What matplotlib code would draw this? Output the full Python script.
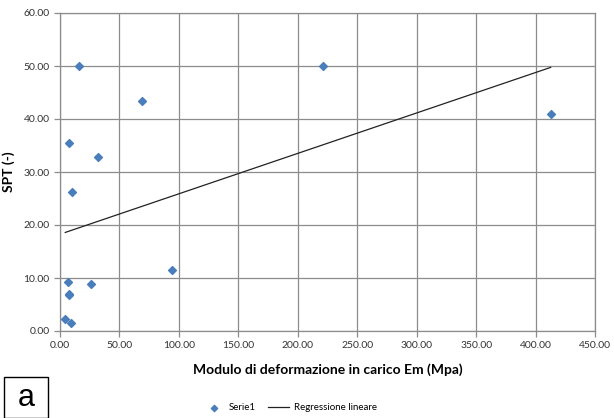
import numpy as np
import matplotlib
matplotlib.use("Agg")
import matplotlib.pyplot as plt
from matplotlib.patches import Rectangle

# Serie1 values
em_mpa = [15.6, 68.9, 7.8, 32.2, 10.0, 93.9, 6.9, 26.4, 7.2, 7.8, 4.4, 9.4, 220.8, 412.7]
spt = [50.0, 43.4, 35.4, 32.8, 26.3, 11.6, 9.2, 8.8, 7.0, 6.8, 2.3, 1.6, 50.0, 40.9]

x_ticks = np.arange(0, 451, 50)
y_ticks = np.arange(0, 61, 10)

plt.rcParams['font.family'] = ['Lato', 'DejaVu Sans']

fig = plt.figure(figsize=(6.14, 4.18), dpi=100)
ax = fig.add_axes([60 / 614, 1 - 331 / 418, 535 / 614, 318 / 418])

# grid
ax.set_xlim(0, 450)
ax.set_ylim(0, 60)
ax.set_xticks(x_ticks)
ax.set_yticks(y_ticks)
ax.set_xticklabels([f"{v:.2f}" for v in x_ticks])
ax.set_yticklabels([f"{v:.2f}" for v in y_ticks])
ax.grid(True, color='#8c8c8c', linewidth=0.9)
ax.set_axisbelow(True)
for s in ax.spines.values():
    s.set_color('#8c8c8c')
    s.set_linewidth(0.9)
ax.tick_params(colors='#8c8c8c', labelcolor='#333333', labelsize=7.5, length=4, width=0.9)

ax.scatter(em_mpa, spt, marker='D', s=16, color='#4a7ebb', zorder=3, label='Serie1')

# linear regression
slope, intercept = np.polyfit(em_mpa, spt, 1)
xr = np.array([min(em_mpa), max(em_mpa)])
ax.plot(xr, slope * xr + intercept, color='#222222', linewidth=0.9, label='Regressione lineare')

ax.set_xlabel('Modulo di deformazione in carico Em (Mpa)', fontsize=10, fontweight='bold', labelpad=9)
ax.set_ylabel('SPT (-)', fontsize=10, fontweight='bold', labelpad=6)

fig.legend(loc='center', bbox_to_anchor=(290 / 614, 1 - 408 / 418), ncol=2, frameon=False,
           fontsize=7, handlelength=2.2, columnspacing=1.2, handletextpad=0.5, markerscale=0.8)

# panel letter box
fig.patches.append(Rectangle((4 / 614, 0), 44 / 614, 41 / 418, transform=fig.transFigure,
                             fill=False, edgecolor='black', linewidth=1))
fig.text(26 / 614, 20 / 418, 'a', fontsize=22, ha='center', va='center', family='Liberation Sans')

fig.savefig('out.png', dpi=100)
